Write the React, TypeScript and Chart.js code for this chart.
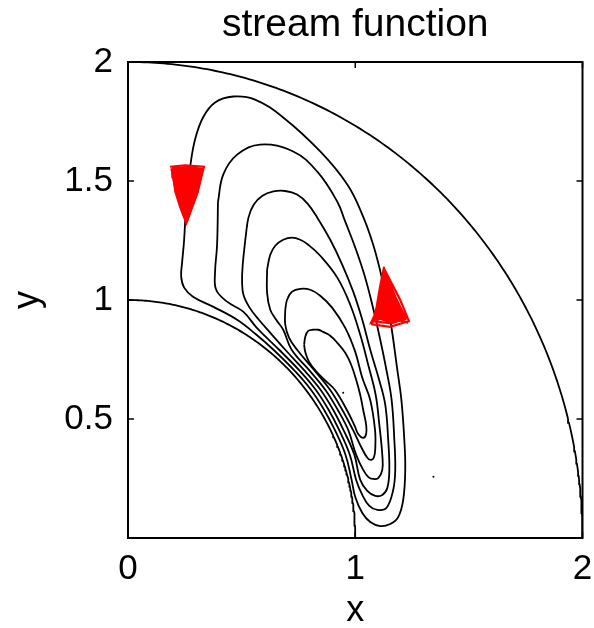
import React, { useEffect, useRef } from 'react';
import { Chart, registerables } from 'chart.js';

Chart.register(...registerables);

const TITLE = 'stream function';
const X_LABEL = 'x';
const Y_LABEL = 'y';
const X_TICKS = [0, 1, 2];
const Y_TICKS = [0, 0.5, 1, 1.5, 2];
const BOUNDARY_RADII = [1, 2];

type P = [number, number];

const CONTOUR_1: P[] = [
  [0.256, 1.422], [0.247, 1.253], [0.238, 1.157], [0.234, 1.098], [0.247, 1.052], [0.286, 1.014],
  [0.374, 0.972], [0.480, 0.917], [0.560, 0.858], [0.640, 0.791], [0.736, 0.700], [0.805, 0.623],
  [0.862, 0.540], [0.910, 0.454], [0.957, 0.350], [0.984, 0.244], [1.000, 0.172], [1.031, 0.105],
  [1.066, 0.067], [1.110, 0.050], [1.154, 0.059], [1.189, 0.088], [1.211, 0.160], [1.220, 0.286],
  [1.216, 0.412], [1.203, 0.580], [1.185, 0.707], [1.154, 0.917], [1.119, 1.085], [1.079, 1.232],
  [1.031, 1.359], [0.965, 1.485], [0.846, 1.624], [0.683, 1.767], [0.559, 1.842], [0.463, 1.855],
  [0.383, 1.830], [0.330, 1.767], [0.295, 1.674], [0.273, 1.556], [0.256, 1.422],
];

const CONTOUR_2: P[] = [
  [0.396, 1.413], [0.392, 1.232], [0.383, 1.115], [0.388, 1.043], [0.436, 0.993], [0.507, 0.951],
  [0.565, 0.885], [0.612, 0.840], [0.665, 0.791], [0.758, 0.700], [0.826, 0.623], [0.882, 0.540],
  [0.929, 0.454], [0.976, 0.350], [1.004, 0.244], [1.031, 0.181], [1.062, 0.135], [1.097, 0.118],
  [1.137, 0.126], [1.167, 0.202], [1.176, 0.286], [1.172, 0.412], [1.160, 0.580], [1.137, 0.707],
  [1.110, 0.833], [1.075, 0.980], [1.040, 1.106], [1.000, 1.220], [0.956, 1.329], [0.921, 1.413],
  [0.833, 1.539], [0.727, 1.624], [0.581, 1.653], [0.480, 1.611], [0.419, 1.527], [0.396, 1.413],
];

const CONTOUR_3: P[] = [
  [0.517, 1.260], [0.505, 1.150], [0.502, 1.080], [0.508, 1.022], [0.535, 0.968], [0.575, 0.918],
  [0.630, 0.858], [0.692, 0.791], [0.780, 0.700], [0.847, 0.623], [0.902, 0.540], [0.948, 0.454],
  [0.996, 0.350], [1.022, 0.244], [1.053, 0.198], [1.088, 0.177], [1.119, 0.181], [1.141, 0.210],
  [1.150, 0.286], [1.145, 0.412], [1.132, 0.560], [1.105, 0.665], [1.066, 0.791], [1.031, 0.917],
  [0.991, 1.035], [0.943, 1.148], [0.890, 1.253], [0.833, 1.346], [0.790, 1.405], [0.744, 1.443],
  [0.692, 1.458], [0.640, 1.456], [0.590, 1.437], [0.553, 1.400], [0.530, 1.346], [0.517, 1.260],
];

const CONTOUR_4: P[] = [
  [0.612, 1.127], [0.612, 1.030], [0.626, 0.959], [0.652, 0.917], [0.683, 0.875], [0.720, 0.791],
  [0.802, 0.700], [0.868, 0.623], [0.922, 0.540], [0.969, 0.454], [1.004, 0.349], [1.035, 0.286],
  [1.058, 0.256], [1.079, 0.248], [1.101, 0.252], [1.119, 0.286], [1.119, 0.349], [1.106, 0.475],
  [1.090, 0.601], [1.057, 0.728], [1.022, 0.854], [0.978, 0.980], [0.921, 1.094], [0.846, 1.186],
  [0.793, 1.232], [0.758, 1.253], [0.722, 1.262], [0.683, 1.253], [0.648, 1.228], [0.626, 1.190],
  [0.612, 1.127],
];

const CONTOUR_5: P[] = [
  [0.692, 0.959], [0.692, 0.896], [0.709, 0.841], [0.744, 0.791], [0.824, 0.700], [0.889, 0.623],
  [0.942, 0.540], [0.990, 0.454], [1.030, 0.375], [1.055, 0.335], [1.070, 0.328], [1.082, 0.338],
  [1.088, 0.375], [1.087, 0.454], [1.066, 0.580], [1.031, 0.673], [1.000, 0.782], [0.956, 0.883],
  [0.899, 0.967], [0.846, 1.018], [0.802, 1.043], [0.758, 1.047], [0.722, 1.035], [0.700, 1.001],
  [0.692, 0.959],
];

const CONTOUR_6: P[] = [
  [0.775, 0.812], [0.780, 0.782], [0.797, 0.740], [0.830, 0.698], [0.870, 0.660], [0.910, 0.623],
  [0.962, 0.540], [0.998, 0.470], [1.013, 0.437], [1.035, 0.421], [1.048, 0.437], [1.048, 0.475],
  [1.035, 0.538], [1.022, 0.601], [1.004, 0.665], [0.982, 0.728], [0.956, 0.778], [0.921, 0.820],
  [0.890, 0.850], [0.859, 0.866], [0.837, 0.875], [0.815, 0.875], [0.793, 0.870], [0.780, 0.845],
  [0.775, 0.812],
];

const CONTOURS: P[][] = [CONTOUR_1, CONTOUR_2, CONTOUR_3, CONTOUR_4, CONTOUR_5, CONTOUR_6];

const SPECKS: P[] = [[0.947, 0.610], [1.344, 0.257]];

const RED_PATCH_1: P[] = [
  [0.194, 1.556], [0.262, 1.560], [0.330, 1.552], [0.322, 1.515], [0.308, 1.455], [0.282, 1.388],
  [0.256, 1.321], [0.229, 1.388], [0.207, 1.455], [0.198, 1.515], [0.194, 1.556],
];

const RED_TRACE_1: P[] = [
  [0.185, 1.560], [0.250, 1.566], [0.334, 1.560], [0.305, 1.450], [0.258, 1.326], [0.212, 1.450],
  [0.192, 1.548], [0.280, 1.548], [0.322, 1.545], [0.290, 1.420], [0.255, 1.340], [0.225, 1.430],
  [0.200, 1.540],
];

const RED_PATCH_2: P[] = [
  [1.127, 1.115], [1.103, 1.000], [1.088, 0.925], [1.158, 0.905], [1.220, 0.918], [1.183, 1.000],
  [1.127, 1.115],
];

const RED_TRACE_2: P[] = [
  [1.127, 1.140], [1.108, 1.050], [1.093, 0.965], [1.074, 0.898], [1.153, 0.887], [1.236, 0.912],
  [1.198, 1.000], [1.133, 1.120], [1.113, 1.020], [1.083, 0.910], [1.158, 0.902], [1.223, 0.922],
  [1.178, 1.010], [1.138, 1.100], [1.123, 1.000], [1.093, 0.925], [1.163, 0.912], [1.208, 0.932],
  [1.168, 1.010], [1.136, 1.080], [1.103, 0.940], [1.168, 0.925], [1.198, 0.945], [1.148, 1.060],
  [1.070, 0.905], [1.128, 0.930], [1.233, 0.905],
];

const FONT = '"Liberation Sans", Arial, Helvetica, sans-serif';
const toXY = (pts: P[]) => pts.map(([x, y]) => ({ x, y }));
const arcPoints = (r: number) =>
  Array.from({ length: 181 }, (_, i) => {
    const a = (i / 180) * (Math.PI / 2);
    return { x: r * Math.cos(a), y: r * Math.sin(a) };
  });

const framePlugin = {
  id: 'frame',
  afterDatasetsDraw(chart: any) {
    const { ctx, chartArea, scales } = chart;
    const { left, right, top, bottom } = chartArea;
    const xs = scales.x;
    const ys = scales.y;
    const tick = 6;
    ctx.save();
    ctx.strokeStyle = '#000';
    ctx.lineWidth = 2;
    ctx.strokeRect(left, top, right - left, bottom - top);
    ctx.lineWidth = 1.5;
    ctx.beginPath();
    for (const v of X_TICKS) {
      const px = xs.getPixelForValue(v);
      ctx.moveTo(px, bottom);
      ctx.lineTo(px, bottom - tick);
      ctx.moveTo(px, top);
      ctx.lineTo(px, top + tick);
    }
    for (const v of Y_TICKS) {
      const py = ys.getPixelForValue(v);
      ctx.moveTo(left, py);
      ctx.lineTo(left + tick, py);
      ctx.moveTo(right, py);
      ctx.lineTo(right - tick, py);
    }
    ctx.stroke();
    ctx.fillStyle = '#000';
    ctx.font = `39px ${FONT}`;
    ctx.textAlign = 'center';
    ctx.textBaseline = 'alphabetic';
    ctx.fillText(TITLE, (left + right) / 2, 36);
    ctx.restore();
  },
};

export default function App() {
  const ref = useRef<HTMLCanvasElement | null>(null);

  useEffect(() => {
    if (!ref.current) return;
    const lineDs = (pts: { x: number; y: number }[], color: string, width: number, tension: number) => ({
      data: pts,
      showLine: true,
      borderColor: color,
      borderWidth: width,
      pointRadius: 0,
      tension,
      fill: false,
    });
    const datasets: any[] = [
      lineDs(toXY(RED_TRACE_1), '#ff0000', 2.2, 0),
      { ...lineDs(toXY(RED_PATCH_1), '#ff0000', 1.5, 0), fill: 'shape', backgroundColor: '#ff0000' },
      lineDs(toXY(RED_TRACE_2), '#ff0000', 2.2, 0),
      { ...lineDs(toXY(RED_PATCH_2), '#ff0000', 1.5, 0), fill: 'shape', backgroundColor: '#ff0000' },
      ...CONTOURS.map((c) => lineDs(toXY(c), '#000000', 1.8, 0.4)),
      ...BOUNDARY_RADII.map((r) => lineDs(arcPoints(r), '#000000', 1.8, 0)),
      {
        data: toXY(SPECKS),
        showLine: false,
        pointRadius: 1,
        pointBackgroundColor: '#000',
        pointBorderWidth: 0,
      },
    ];

    const chart = new Chart(ref.current, {
      type: 'scatter',
      data: { datasets },
      options: {
        animation: false,
        responsive: false,
        devicePixelRatio: 1,
        layout: { padding: { top: 62, right: 11.5, left: 0, bottom: 0 } },
        plugins: {
          legend: { display: false },
          title: { display: false },
          tooltip: { enabled: false },
        },
        events: [],
        scales: {
          x: {
            type: 'linear',
            min: 0,
            max: 2,
            grid: { display: false, drawTicks: false },
            border: { display: false },
            ticks: {
              stepSize: 1,
              color: '#000',
              font: { family: FONT, size: 35 },
              padding: 10,
              maxRotation: 0,
              autoSkip: false,
            },
            title: {
              display: true,
              text: X_LABEL,
              color: '#000',
              font: { family: FONT, size: 36, lineHeight: 0.85 },
              padding: { top: 0, bottom: 2 },
            },
            afterFit: (s: any) => {
              s.height = 90;
              s.paddingLeft = 0;
              s.paddingRight = 0;
            },
          },
          y: {
            type: 'linear',
            min: 0,
            max: 2,
            grid: { display: false, drawTicks: false },
            border: { display: false },
            ticks: {
              stepSize: 0.5,
              color: '#000',
              font: { family: FONT, size: 35 },
              padding: 15,
              autoSkip: false,
              callback: (v: any) => (Number(v) === 0 ? '' : String(v)),
            },
            title: {
              display: true,
              text: Y_LABEL,
              color: '#000',
              font: { family: FONT, size: 36, lineHeight: 1 },
              padding: { top: 10, bottom: 0 },
            },
            afterFit: (s: any) => {
              s.width = 128;
            },
          },
        },
      },
      plugins: [framePlugin],
    });
    return () => chart.destroy();
  }, []);

  return (
    <div style={{ position: 'fixed', left: 0, top: 0, width: 594, height: 628, background: '#fff' }}>
      <canvas ref={ref} width={594} height={628} style={{ display: 'block', width: 594, height: 628 }} />
    </div>
  );
}
